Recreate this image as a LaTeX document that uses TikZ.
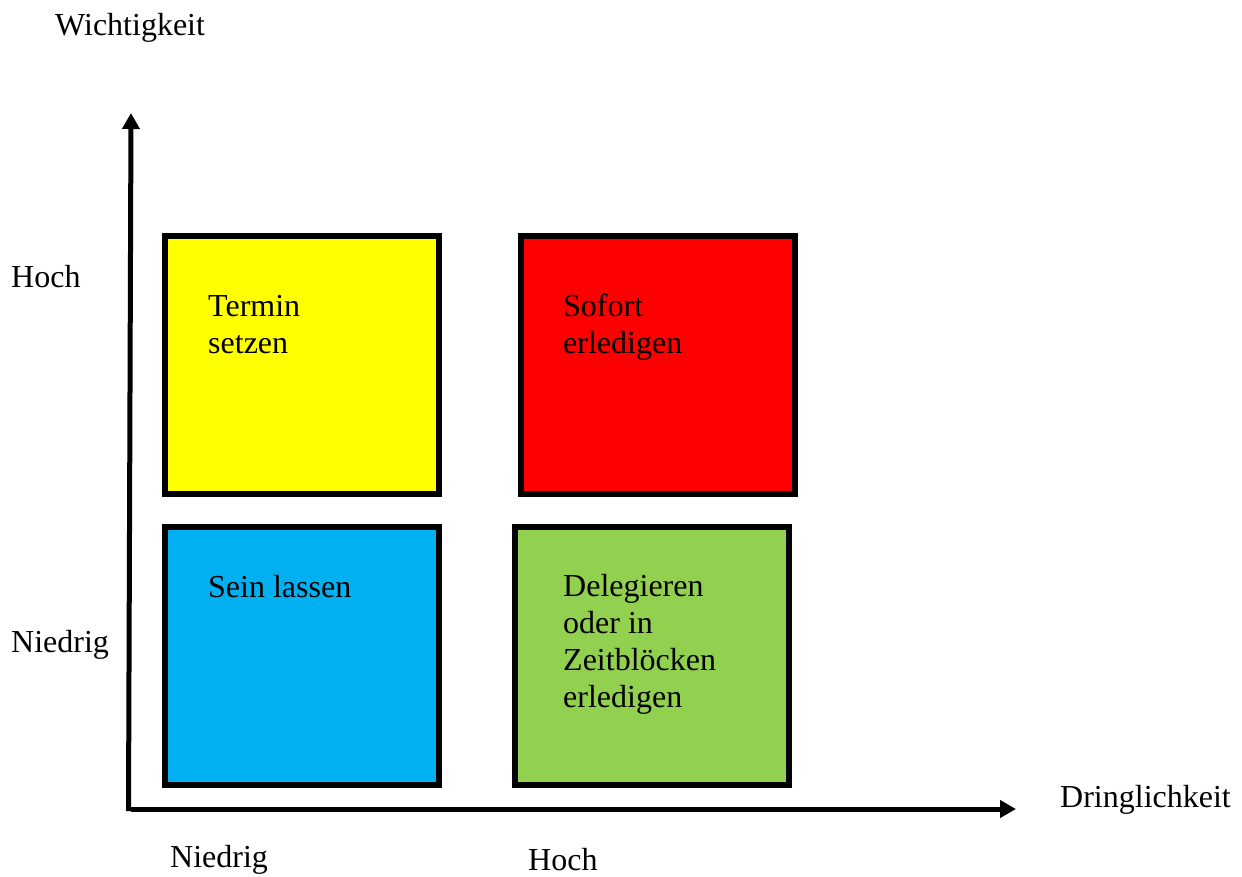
\documentclass[tikz,border=0pt]{standalone}
\usepackage{fontspec}
\setmainfont{Liberation Serif}
\usetikzlibrary{arrows.meta}
\definecolor{qyellow}{HTML}{FFFF00}
\definecolor{qred}{HTML}{FF0000}
\definecolor{qblue}{HTML}{00B0F0}
\definecolor{qgreen}{HTML}{92D050}
\tikzset{
  quad/.style={draw=black, line width=6pt},
  lbl/.style={inner sep=0pt, anchor=base west, font=\fontsize{32}{36.8}\selectfont, align=left},
  axis/.style={line width=5pt, -{Triangle[length=16pt,width=17pt]}},
}
\begin{document}
\begin{tikzpicture}[x=1pt,y=-1pt]
\useasboundingbox (0,0) rectangle (1242,876);
% quadrants
\draw[quad, fill=qyellow] (165,236) rectangle (439,494);
\draw[quad, fill=qred] (521,236) rectangle (795,494);
\draw[quad, fill=qblue] (165,527) rectangle (439,785);
\draw[quad, fill=qgreen] (515,527) rectangle (789,785);
% axes
\coordinate (ybot) at (128.5,811);
\coordinate (ytop) at (131,113);
\coordinate (xleft) at (131,809);
\coordinate (xright) at (1016,809);
\draw[axis] (ybot) -- (ytop);
\draw[axis] (xleft) -- (xright);
% labels
\node[lbl] (wicht) at (55,35) {Wichtigkeit};
\node[lbl] (yhoch) at (11,287) {Hoch};
\node[lbl] (yniedrig) at (11,652) {Niedrig};
\node[lbl] (xniedrig) at (170,867) {Niedrig};
\node[lbl] (xhoch) at (528,870) {Hoch};
\node[lbl] (dring) at (1060,807) {Dringlichkeit};
% multi-line nodes: base anchor is the baseline of the last line
\node[lbl] (t1) at (208,353) {Termin\\setzen};
\node[lbl] (t2) at (563,353) {Sofort\\erledigen};
\node[lbl] (t3) at (208,597) {Sein lassen};
\node[lbl] (t4) at (563,707) {Delegieren\\oder in\\Zeitblöcken\\erledigen};
\end{tikzpicture}
\end{document}
